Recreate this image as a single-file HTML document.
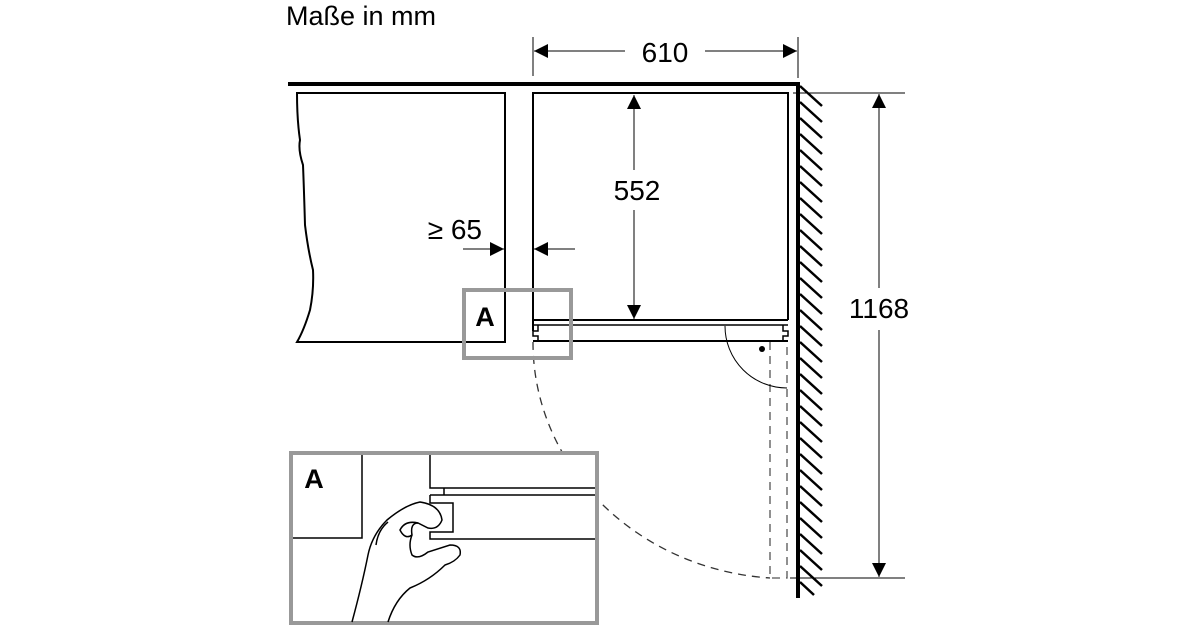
<!DOCTYPE html>
<html><head><meta charset="utf-8"><style>
html,body{margin:0;padding:0;background:#fff;}
svg{display:block;}
text{font-family:"Liberation Sans",Arial,sans-serif;fill:#000;}
</style></head><body>
<svg width="1200" height="630" viewBox="0 0 1200 630" xmlns="http://www.w3.org/2000/svg">
<defs>
<marker id="ar" viewBox="0 0 10 10" refX="10" refY="5" markerWidth="20" markerHeight="14" markerUnits="userSpaceOnUse" orient="auto"><path d="M0,0 L10,5 L0,10 Z" fill="#000"/></marker>
</defs>
<text x="286" y="25" font-size="27">Maße in mm</text>
<line x1="288" y1="84" x2="799" y2="84" stroke="#000" stroke-width="4"/>
<line x1="798" y1="82" x2="798" y2="598" stroke="#000" stroke-width="4"/>
<g stroke="#000" stroke-width="2.5">
<path d="M800,86l22,20M800,102l22,20M800,118l22,20M800,134l22,20M800,150l22,20M800,166l22,20M800,182l22,20M800,198l22,20M800,214l22,20M800,230l22,20M800,246l22,20M800,262l22,20M800,278l22,20M800,294l22,20M800,310l22,20M800,326l22,20M800,342l22,20M800,358l22,20M800,374l22,20M800,390l22,20M800,406l22,20M800,422l22,20M800,438l22,20M800,454l22,20M800,470l22,20M800,486l22,20M800,502l22,20M800,518l22,20M800,534l22,20M800,550l22,20M800,566l22,20M800,582l14,13"/>
</g>
<path d="M297,93 L505,93 L505,342 L297,342 Q304,330 310,310 Q314,290 313,270 Q308,250 305,225 Q304,190 303,165 Q298,150 300,140 Q297,120 297,93 Z" fill="none" stroke="#000" stroke-width="2"/>
<path d="M533,331 L533,93 L788,93 L788,320" fill="none" stroke="#000" stroke-width="2"/>
<line x1="533" y1="320" x2="788" y2="320" stroke="#000" stroke-width="2"/>
<line x1="533" y1="325" x2="788" y2="325" stroke="#000" stroke-width="1.5"/>
<line x1="533" y1="341" x2="788" y2="341" stroke="#000" stroke-width="2"/>
<path d="M538,325 L538,331 L533,331 L533,336 L538,336 L538,341 M783,325 L783,331 L788,331 L788,336 L783,336 L783,341" fill="none" stroke="#000" stroke-width="1.5"/>
<path d="M533,342 A255,236 0 0 0 770,578" fill="none" stroke="#333" stroke-width="1.3" stroke-dasharray="8,6"/>
<path d="M770,342 L770,578 L787,578 L787,342" fill="none" stroke="#555" stroke-width="1.3" stroke-dasharray="8,6"/>
<path d="M725,326 A62,62 0 0 0 787,388" fill="none" stroke="#000" stroke-width="1"/>
<circle cx="762" cy="349" r="3" fill="#000"/>
<g stroke="#000" stroke-width="1">
<line x1="533" y1="37" x2="533" y2="76"/>
<line x1="798" y1="37" x2="798" y2="78"/>
<line x1="625" y1="51" x2="534" y2="51" marker-end="url(#ar)"/>
<line x1="705" y1="51" x2="797" y2="51" marker-end="url(#ar)"/>
<line x1="634" y1="170" x2="634" y2="95" marker-end="url(#ar)"/>
<line x1="634" y1="210" x2="634" y2="319" marker-end="url(#ar)"/>
<line x1="793" y1="93" x2="905" y2="93"/>
<line x1="790" y1="578" x2="905" y2="578"/>
<line x1="879" y1="288" x2="879" y2="94" marker-end="url(#ar)"/>
<line x1="879" y1="330" x2="879" y2="577" marker-end="url(#ar)"/>
<line x1="463" y1="249" x2="504" y2="249" marker-end="url(#ar)"/>
<line x1="575" y1="249" x2="534" y2="249" marker-end="url(#ar)"/>
</g>
<text x="665" y="62" font-size="28" text-anchor="middle">610</text>
<text x="637" y="200" font-size="28" text-anchor="middle">552</text>
<text x="879" y="318" font-size="28" text-anchor="middle">1168</text>
<text x="482" y="239" font-size="28" text-anchor="end">≥ 65</text>
<rect x="464" y="290" width="107" height="68" fill="none" stroke="#999" stroke-width="4"/>
<text x="485" y="326" font-size="27" font-weight="bold" text-anchor="middle">A</text>
<rect x="291" y="453" width="306" height="170" fill="#fff" stroke="#999" stroke-width="4"/>
<g fill="none" stroke="#000" stroke-width="1.5">
<path d="M293,538 L362,538 L362,455"/>
<path d="M430,455 L430,488 L595,488"/>
<path d="M430,495 L595,495"/>
<path d="M444,488 L444,495"/>
<path d="M430,495 L430,503 L453,503 L453,532 L430,532 L430,539 L595,539"/>
<path d="M352,622 Q362,585 368,555 Q372,535 387,520 Q405,505 420,502 Q440,505 442,520 Q438,530 428,528 L418,523 Q410,523 412,535 Q408,545 412,555 Q418,560 428,552 L450,545 Q462,545 460,555 Q455,562 445,565 Q430,580 410,588 Q395,600 388,622"/>
<path d="M412,535 Q405,540 400,530 Q405,520 418,523"/>
<path d="M376,545 Q378,530 388,522"/>
</g>
<text x="314" y="488" font-size="27" font-weight="bold" text-anchor="middle">A</text>
</svg>
</body></html>
